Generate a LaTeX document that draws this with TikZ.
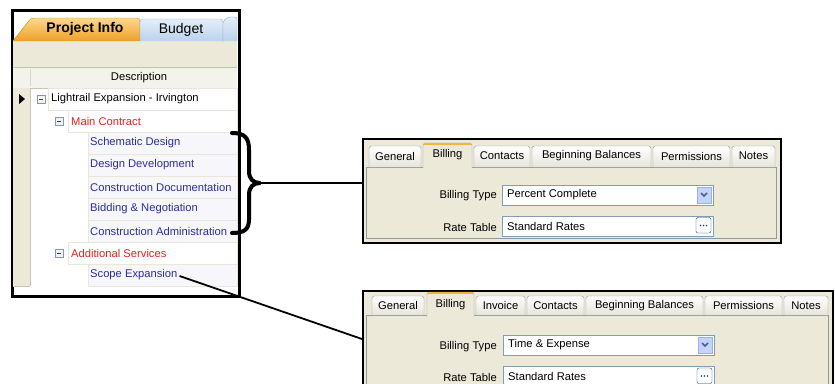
\documentclass[tikz,border=0pt]{standalone}
\usepackage{fontspec}
\setmainfont{Liberation Sans}
\usetikzlibrary{calc}
\definecolor{xpbeige}{HTML}{ECE9D8}
\definecolor{tabgray}{HTML}{919B9C}
\definecolor{tabbot}{HTML}{E6E4DA}
\definecolor{navy}{HTML}{2B2E9B}
\definecolor{uired}{HTML}{E3221C}
\definecolor{cellline}{HTML}{EAE7DA}
\definecolor{childfill}{HTML}{F6F6FB}
\definecolor{combob}{HTML}{7F9DB9}
\definecolor{dropblue}{HTML}{C3D3FD}
\definecolor{chev}{HTML}{4D6185}
\definecolor{orangeT}{HTML}{F4B43C}
\definecolor{hdrfill}{HTML}{F3F2EC}
\definecolor{selline}{HTML}{C9C5B5}
\definecolor{iconb}{HTML}{8796AE}
\definecolor{iconm}{HTML}{2F3E5C}
\definecolor{btnb}{HTML}{1F3F6E}
\definecolor{otabtop}{HTML}{FCD88A}
\definecolor{otabbot}{HTML}{EDA02A}
\definecolor{otabln}{HTML}{C98C2A}
\definecolor{btabtop}{HTML}{E4EEF8}
\definecolor{btabbot}{HTML}{BAD2EC}
\definecolor{btabln}{HTML}{8EAACB}
\newcommand\uif{\fontsize{11.2}{13}\selectfont}
\newcommand\uitab[7]{% x1 x2 ytop ybot texty name label
  \draw[tabgray, top color=white, bottom color=tabbot, rounded corners=2.5pt] (#1,#4) -- (#1,#3) -- (#2,#3) -- (#2,#4);
  \node (#6) at ({(#1+#2)/2},#5) {#7};}
\newcommand\seltab[7]{%
  \draw[tabgray, fill=xpbeige, rounded corners=2.5pt] (#1,#4+1) -- (#1,#3) -- (#2,#3) -- (#2,#4+1);
  \draw[orangeT, line width=2.2pt] (#1+1.2,#3+1) -- (#2-1.2,#3+1);
  \node (#6) at ({(#1+#2)/2},#5) {#7};}
\begin{document}
\begin{tikzpicture}[x=1pt,y=-1pt, every node/.style={inner sep=0pt, font=\uif}]
\clip (0,0) rectangle (835,383);
\fill[white] (0,0) rectangle (835,383);

% ---------------- left panel ----------------
\node[draw=black, line width=2pt, fill=white, minimum width=226pt, minimum height=285pt, anchor=north west] (lp) at (12,10) {};
\fill[xpbeige] (13,40) rectangle (237,67);
% tabs
\draw[otabln, top color=otabtop, bottom color=otabbot, rounded corners=3pt] (13,41) -- (31,18) -- (140,18) -- (140,41);
\node[font=\fontsize{14}{16}\selectfont\bfseries] (tpi) at (85,29) {Project Info};
\draw[btabln, top color=btabtop, bottom color=btabbot, rounded corners=3pt] (140,41) -- (140,19) -- (223,19) -- (223,41);
\node[font=\fontsize{14}{16}\selectfont] (tbu) at (181,29.5) {Budget};
\draw[btabln, top color=btabtop, bottom color=btabbot, rounded corners=2pt] (223,41) -- (223,21) -- (228,17) -- (237,17) -- (237,41);
% header
\fill[hdrfill] (13,67) rectangle (237,88);
\draw[combob!60] (13,67) -- (237,67);
\draw[selline] (13,88) -- (237,88);
\draw[selline!70] (30,69) -- (30,86);
\node (hdr) at (139,78) {Description};
% row selector column
\foreach \i in {0,...,8}{
  \fill[xpbeige] (13,{88+22*\i}) rectangle (30,{110+22*\i});
  \draw[selline] (13,{110+22*\i}) -- (30,{110+22*\i});
}
\draw[selline] (30,88) -- (30,286);
% cells
\foreach \i/\xs/\fc in {0/48/white,1/68/white,2/88/childfill,3/88/childfill,4/88/childfill,5/88/childfill,6/88/childfill,7/68/white,8/88/childfill}{
  \draw[cellline, fill=\fc] (\xs,{88+22*\i}) rectangle (237,{110+22*\i});
}
% icons
\fill (19,94) -- (25,99) -- (19,104) -- cycle;
\foreach \x/\y in {41/99, 59/121, 59/253}{
  \draw[iconb, fill=hdrfill] (\x-4,\y-4) rectangle (\x+4,\y+4);
  \draw[iconm, line width=1pt] (\x-2,\y) -- (\x+2,\y);
}
\node[anchor=west] (r0) at (51,99) {Lightrail Expansion - Irvington};
\node[anchor=west, text=uired] (r1) at (71,121) {Main Contract};
\node[anchor=west, text=navy] (r2) at (90,143) {Schematic Design};
\node[anchor=west, text=navy] (r3) at (90,165) {Design Development};
\node[anchor=west, text=navy] (r4) at (90,187) {Construction Documentation};
\node[anchor=west, text=navy] (r5) at (90,209) {Bidding \& Negotiation};
\node[anchor=west, text=navy] (r6) at (90,231) {Construction Administration};
\node[anchor=west, text=uired] (r7) at (71,253) {Additional Services};
\node[anchor=west, text=navy] (r8) at (90,275) {Scope Expansion};
\draw[line width=2pt] (lp.north west) rectangle (lp.south east);

% ---------------- panel 1 ----------------
\node[draw=black, line width=2pt, fill=xpbeige, minimum width=418pt, minimum height=104pt, anchor=north west] (p1) at (362,138) {};
\draw[tabgray, fill=xpbeige] (366,167) rectangle (776,238);
\uitab{369}{421}{146}{167}{156}{ta1}{General}
\uitab{474}{530}{146}{167}{156}{tc1}{Contacts}
\uitab{532}{651}{146}{167}{156}{tbb1}{Beginning Balances}
\uitab{653}{730}{146}{167}{156}{tpe1}{Permissions}
\uitab{732}{775}{146}{167}{156}{tn1}{Notes}
\seltab{423}{472}{143}{167}{155}{tbi1}{Billing}
\node[anchor=east] (bt1) at (497,196) {Billing Type};
\node[draw=combob, fill=white, minimum width=211pt, minimum height=20pt, anchor=north west] (cb1) at (502,185) {};
\draw[dropblue!70!chev, fill=dropblue] (697,187) rectangle (711,203);
\draw[chev, line width=1.5pt] (701,193) -- (704,196) -- (707,193);
\node[anchor=west] (cbt1) at (507,195) {Percent Complete};
\node[anchor=east] (rl1) at (497,227) {Rate Table};
\node[draw=combob, fill=white, minimum width=211pt, minimum height=20pt, anchor=north west] (rt1) at (502,216) {};
\node[anchor=west] (rtt1) at (507,226) {Standard Rates};
\draw[btnb, fill=white, rounded corners=2pt] (696,217.5) rectangle (711,233);
\foreach \x in {700.5,703.5,706.5}{\fill[btnb] (\x,225.5) circle (0.9);}

% ---------------- panel 2 ----------------
\node[draw=black, line width=2pt, fill=xpbeige, minimum width=470pt, minimum height=110pt, anchor=north west] (p2) at (362,290) {};
\draw[tabgray, fill=xpbeige] (366,315) rectangle (828,410);
\uitab{372}{424}{296}{315}{305.5}{ta2}{General}
\uitab{476}{525}{296}{315}{305.5}{ti2}{Invoice}
\uitab{527}{584}{296}{315}{305.5}{tc2}{Contacts}
\uitab{586}{703}{296}{315}{305.5}{tbb2}{Beginning Balances}
\uitab{705}{782}{296}{315}{305.5}{tpe2}{Permissions}
\uitab{784}{828}{296}{315}{305.5}{tn2}{Notes}
\seltab{427}{474}{292}{315}{304.5}{tbi2}{Billing}
\node[anchor=east] (bt2) at (497,347) {Billing Type};
\node[draw=combob, fill=white, minimum width=211pt, minimum height=20pt, anchor=north west] (cb2) at (503,335) {};
\draw[dropblue!70!chev, fill=dropblue] (698,337) rectangle (712,353);
\draw[chev, line width=1.5pt] (702,343) -- (705,346) -- (708,343);
\node[anchor=west] (cbt2) at (508,345) {Time \& Expense};
\node[anchor=east] (rl2) at (497,377) {Rate Table};
\node[draw=combob, fill=white, minimum width=211pt, minimum height=20pt, anchor=north west] (rt2) at (503,366) {};
\node[anchor=west] (rtt2) at (508,376) {Standard Rates};
\draw[btnb, fill=white, rounded corners=2pt] (697,368) rectangle (712,383.5);
\foreach \x in {701.5,704.5,707.5}{\fill[btnb] (\x,376) circle (0.9);}

% ---------------- brace and connectors ----------------
\draw[line width=4pt, line cap=round, line join=round]
  (232,133) .. controls (245,133) and (249,138) .. (249,150) -- (249,171)
  .. controls (249,179) and (253,183) .. (260,183)
  .. controls (253,183) and (249,187) .. (249,195) -- (249,219)
  .. controls (249,229) and (245,233) .. (232,233);
\coordinate (btip) at (261,183);
\draw[line width=2pt] (btip) -- (btip -| p1.west);
\path (p2.north west) ++(0,49) coordinate (se);
\draw[line width=1.8pt] ([xshift=2pt,yshift=-1pt]r8.east) -- (se);
\end{tikzpicture}
\end{document}
